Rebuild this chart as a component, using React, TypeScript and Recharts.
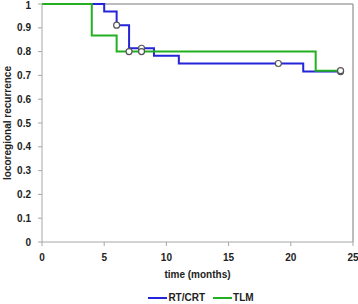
import React from "react";
import {
  ComposedChart,
  Legend,
  Line,
  ReferenceLine,
  XAxis,
  YAxis,
} from "recharts";

const rtTimes = [0, 5, 6, 7, 8, 9, 11, 19, 21, 24];
const rtValues = [1, 0.969, 0.911, 0.814, 0.814, 0.783, 0.75, 0.75, 0.716, 0.716];
const rtCensored = [6, 8, 19, 24];

const tlmTimes = [0, 4, 6, 7, 8, 22, 24];
const tlmValues = [1, 0.868, 0.8, 0.8, 0.8, 0.72, 0.72];
const tlmCensored = [7, 8, 24];

const xTicks = [0, 5, 10, 15, 20, 25];
const yTicks = [0, 0.1, 0.2, 0.3, 0.4, 0.5, 0.6, 0.7, 0.8, 0.9, 1];

const BLUE = "#2424d8";
const GREEN = "#22b022";
const AXIS = "#a6a6a6";
const FONT = "'Liberation Sans', Arial, sans-serif";

function toSeries(times: number[], values: number[], censored: number[]) {
  return times.map((t, i) => ({ t, v: values[i], c: censored.includes(t) }));
}

const rtData = toSeries(rtTimes, rtValues, rtCensored);
const tlmData = toSeries(tlmTimes, tlmValues, tlmCensored);

function CensorDot(props: any) {
  const { cx, cy, payload, index } = props;
  if (!payload || !payload.c) return <g key={`n-${index}`} />;
  return (
    <circle
      key={`c-${index}`}
      cx={cx}
      cy={cy}
      r={3}
      fill="#ffffff"
      stroke="#555555"
      strokeWidth={1.2}
    />
  );
}

function LegendContent() {
  const items = [
    { label: "RT/CRT", color: BLUE },
    { label: "TLM", color: GREEN },
  ];
  return (
    <div
      style={{
        display: "flex",
        justifyContent: "center",
        gap: 8,
        fontFamily: FONT,
        fontSize: 10,
        fontWeight: "bold",
        color: "#222",
        paddingLeft: 44,
      }}
    >
      {items.map((it) => (
        <span key={it.label} style={{ display: "flex", alignItems: "center" }}>
          <svg width={19} height={4} style={{ marginRight: 1 }}>
            <line x1={0} y1={2} x2={19} y2={2} stroke={it.color} strokeWidth={2} />
          </svg>
          {it.label}
        </span>
      ))}
    </div>
  );
}

export default function App() {
  const tickStyle = { fontSize: 10, fontWeight: "bold", fill: "#222", fontFamily: FONT };
  return (
    <div style={{ position: "absolute", left: 0, top: 0, width: 358, height: 304, background: "#fff" }}>
      <ComposedChart width={358} height={304} margin={{ top: 4, right: 5, bottom: 0, left: 0 }}>
        <XAxis
          type="number"
          dataKey="t"
          domain={[0, 25]}
          ticks={xTicks}
          allowDuplicatedCategory={false}
          stroke={AXIS}
          tickLine={{ stroke: AXIS }}
          tickSize={4}
          tickMargin={8}
          tick={tickStyle}
          height={40}
          label={{
            value: "time (months)",
            position: "insideBottom",
            offset: 4,
            style: { fontSize: 10, fontWeight: "bold", fill: "#222", fontFamily: FONT },
          }}
        />
        <YAxis
          type="number"
          domain={[0, 1]}
          ticks={yTicks}
          stroke={AXIS}
          tickLine={{ stroke: AXIS }}
          tickSize={4}
          tickMargin={7}
          tick={tickStyle}
          width={42}
          label={{
            value: "locoregional recurrence",
            angle: -90,
            position: "insideLeft",
            offset: 7,
            style: {
              fontSize: 10,
              fontWeight: "bold",
              fill: "#222",
              fontFamily: FONT,
              textAnchor: "middle",
            },
          }}
        />
        <ReferenceLine y={1} stroke={AXIS} strokeWidth={1.5} />
        <ReferenceLine x={25} stroke={AXIS} strokeWidth={1.5} />
        <Legend
          content={<LegendContent />}
          verticalAlign="bottom"
          height={22}
          wrapperStyle={{ top: 292, left: 0, width: 358 }}
        />
        <Line
          data={rtData}
          dataKey="v"
          name="RT/CRT"
          type="stepAfter"
          stroke={BLUE}
          strokeWidth={2}
          dot={CensorDot}
          activeDot={false}
          isAnimationActive={false}
        />
        <Line
          data={tlmData}
          dataKey="v"
          name="TLM"
          type="stepAfter"
          stroke={GREEN}
          strokeWidth={2}
          dot={CensorDot}
          activeDot={false}
          isAnimationActive={false}
        />
      </ComposedChart>
    </div>
  );
}
